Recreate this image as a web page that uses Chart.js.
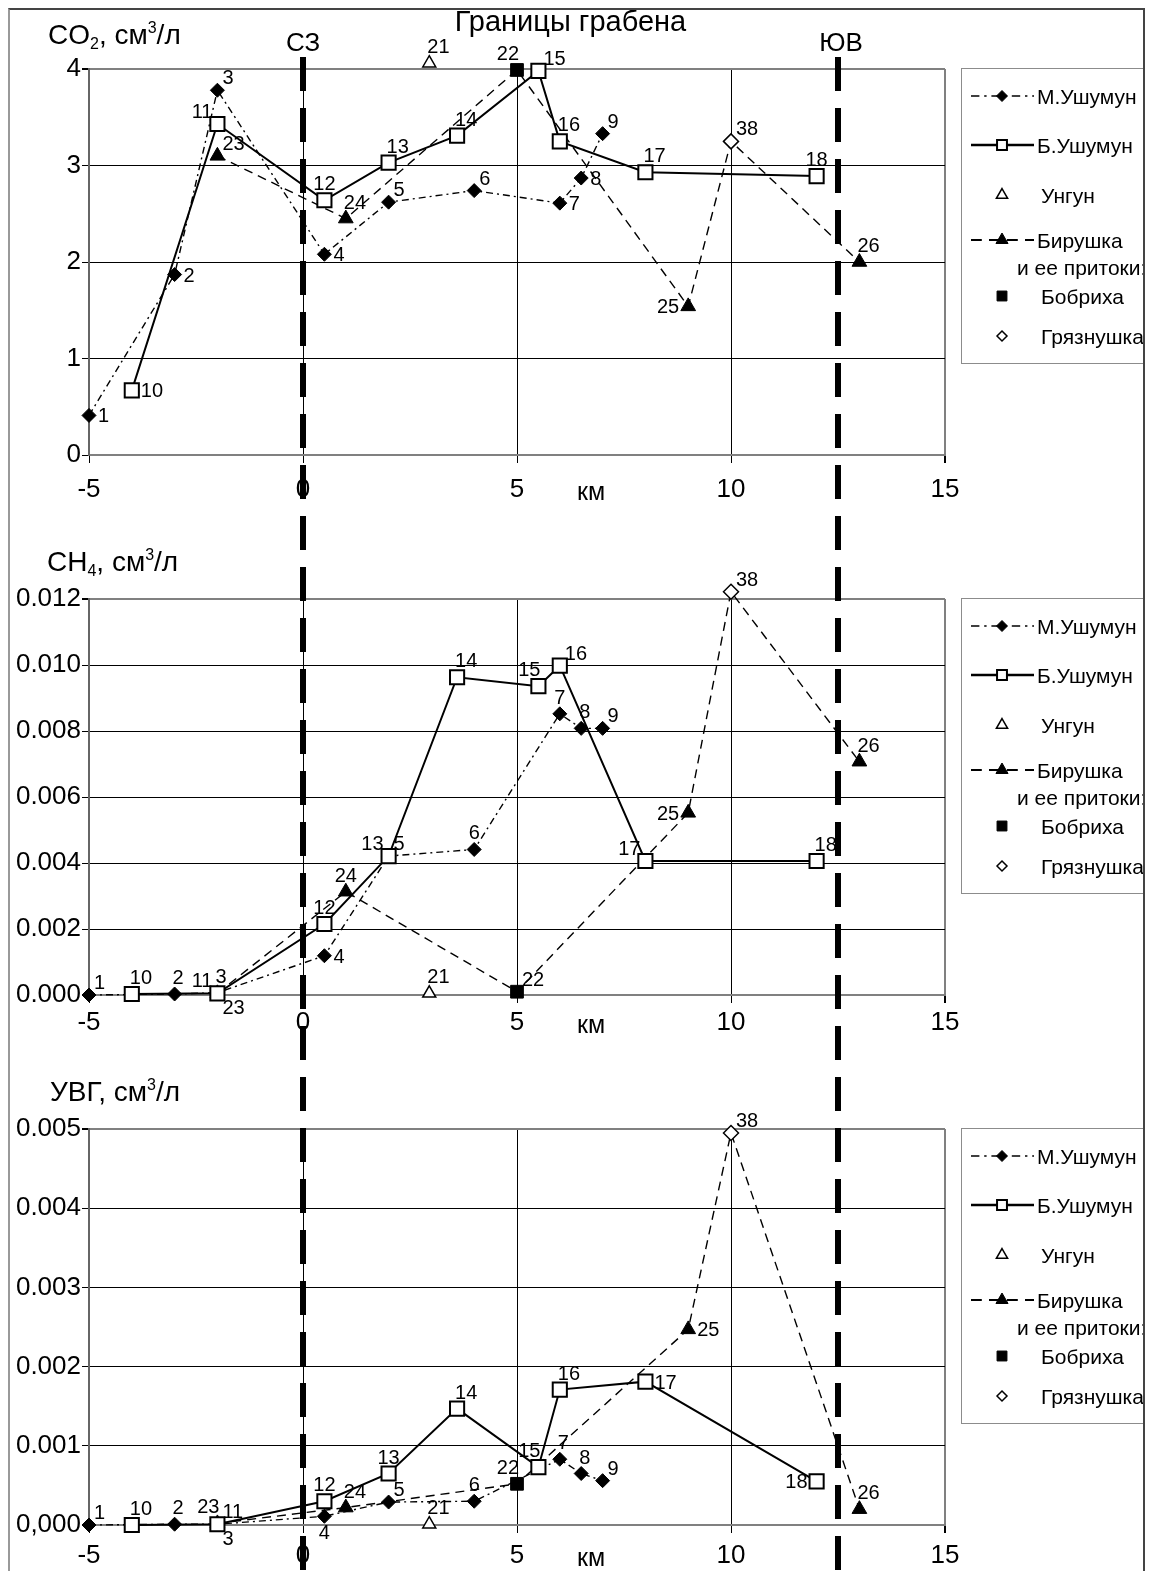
<!DOCTYPE html>
<html>
<head>
<meta charset="utf-8">
<script src="https://cdn.jsdelivr.net/npm/chart.js@4.4.1/dist/chart.umd.min.js"></script>
<style>
  body { margin: 0; background: #fff; width: 1151px; height: 1571px; overflow: hidden; position: relative; }
  canvas { position: absolute; left: 0; }
  #frame { position: absolute; left: 8px; top: 8px; width: 1133px; height: 1600px;
    border-top: 2px solid #444; border-left: 2px solid #999; border-right: 2px solid #444; pointer-events: none; }
</style>
</head>
<body>
<canvas id="co2" width="1151" height="520" style="top:0"></canvas>
<canvas id="ch4" width="1151" height="530" style="top:520px"></canvas>
<canvas id="uvg" width="1151" height="521" style="top:1050px"></canvas>
<div id="frame"></div>
<script>
const FONT = '"Liberation Sans", Arial, sans-serif';
Chart.defaults.font.family = FONT;
Chart.defaults.color = '#000';

// названия рек
const names = ['М.Ушумун', 'Б.Ушумун', 'Унгун', 'Бирушка\nи ее притоки:', 'Бобриха', 'Грязнушка'];

// номера станций и их положение по профилю, км
const stMU = [1, 2, 3, 4, 5, 6, 7, 8, 9];
const kmMU = [-5, -3, -2, 0.5, 2, 4, 6, 6.5, 7];
const stBU = [10, 11, 12, 13, 14, 15, 16, 17, 18];
const kmBU = [-4, -2, 0.5, 2, 3.6, 5.5, 6, 8, 12];
const stUng = [21];
const kmUng = [2.95];
// линия Бирушки проходит через устья притоков: 22 - Бобриха, 38 - Грязнушка
const stBir = [23, 24, 22, 25, 38, 26];
const kmBir = [-2, 1, 5, 9, 10, 13];
const stBobr = [22];
const stGryaz = [38];

// границы грабена, км
const graben = [0, 12.5];

// CO2, см3/л
const co2MU = [0.41, 1.87, 3.78, 2.08, 2.62, 2.74, 2.61, 2.87, 3.33];
const co2BU = [0.67, 3.43, 2.64, 3.03, 3.31, 3.98, 3.25, 2.93, 2.89];
const co2Ung = [4.06];
const co2Bir = [3.10, 2.45, 3.99, 1.54, 3.25, 2.00];

// CH4, см3/л
const ch4MU = [0.00000, 0.00003, 0.00007, 0.00119, 0.00421, 0.00441, 0.00852, 0.00808, 0.00808];
const ch4BU = [0.00003, 0.00005, 0.00215, 0.00421, 0.00963, 0.00936, 0.00998, 0.00406, 0.00406];
const ch4Ung = [0.00005];
const ch4Bir = [0.00005, 0.00313, 0.0001, 0.00552, 0.01222, 0.00707];

// УВГ, см3/л
const uvgMU = [0.00000, 0.00001, 0.00001, 0.00011, 0.00029, 0.00030, 0.00083, 0.00065, 0.00056];
const uvgBU = [0.00000, 0.00001, 0.00030, 0.00065, 0.00147, 0.00073, 0.00171, 0.00181, 0.00055];
const uvgUng = [0.00001];
const uvgBir = [0.00002, 0.00022, 0.00052, 0.00247, 0.00495, 0.00020];

// подписи осей
const xTickVals = [-5, 0, 5, 10, 15];
const xTickLabels = ['-5', '0', '5', '10', '15'];
const co2TickVals = [0, 1, 2, 3, 4];
const co2TickLabels = ['0', '1', '2', '3', '4'];
const ch4TickVals = [0, 0.002, 0.004, 0.006, 0.008, 0.010, 0.012];
const ch4TickLabels = ['0.000', '0.002', '0.004', '0.006', '0.008', '0.010', '0.012'];
const uvgTickVals = [0, 0.001, 0.002, 0.003, 0.004, 0.005];
const uvgTickLabels = ['0,000', '0.001', '0.002', '0.003', '0.004', '0.005'];

// стили
const styleMU = { pointStyle: 'rectRot', radius: 7, fill: '#000', pw: 1, width: 1.4, dash: [7, 4, 2, 4] };
const styleBU = { pointStyle: 'rect', radius: 10, fill: '#fff', pw: 2, width: 2, dash: [] };
const styleUng = { pointStyle: 'triangle', radius: 7.5, fill: '#fff', pw: 1.5, width: 1, dash: null };
const styleBir = { pointStyle: 'triangle', radius: 8.5, fill: '#000', pw: 1, width: 1.4, dash: [9, 6] };
const styleBobr = { pointStyle: 'rect', radius: 9, fill: '#000', pw: 1, width: 1, dash: null };
const styleGryaz = { pointStyle: 'rectRot', radius: 7.5, fill: '#fff', pw: 1.5, width: 1, dash: null };

// где ставить номер станции относительно точки
const OFFS = {
  n: [0, -10, 'center'], nr: [-2, -10, 'left'], nl: [2, -10, 'right'],
  ne: [5, -6, 'left'], nw: [-5, -6, 'right'],
  e: [9, 7, 'left'], w: [-9, 7, 'right'],
  se: [5, 21, 'left'], s: [0, 23, 'center']
};
const co2Pos = {1:'e',2:'e',3:'ne',4:'e',5:'ne',6:'ne',7:'e',8:'e',9:'ne',10:'e',11:'nw',12:'n',13:'nr',14:'nr',15:'ne',16:'nr',17:'nr',18:'n',21:'nr',22:'nl',23:'ne',24:'nr',25:'w',26:'nr',38:'ne'};
const ch4Pos = {1:'ne',2:'nr',3:'nr',4:'e',5:'ne',6:'n',7:'n',8:'nr',9:'ne',10:'nr',11:'nw',12:'n',13:'nw',14:'nr',15:'nl',16:'ne',17:'nw',18:'nr',21:'nr',22:'ne',23:'se',24:'n',25:'w',26:'nr',38:'ne'};
const uvgPos = {1:'ne',2:'nr',3:'se',4:'s',5:'ne',6:'n',7:'nr',8:'nr',9:'ne',10:'nr',11:'ne',12:'n',13:'n',14:'nr',15:'nl',16:'nr',17:'e',18:'w',21:'nr',22:'nl',23:'nl',24:'nr',25:'e',26:'nr',38:'ne'};

const legendRows = [
  { i: 0, s: styleMU, dy: 28, mr: 5.5, lw: 1.4 },
  { i: 1, s: styleBU, dy: 77, mr: 7, lw: 2.5 },
  { i: 2, s: styleUng, dy: 127, mr: 6.5, lw: 1 },
  { i: 3, s: styleBir, dy: 172, mr: 7, lw: 1.8 },
  { i: 4, s: styleBobr, dy: 228, mr: 7, lw: 1 },
  { i: 5, s: styleGryaz, dy: 268, mr: 5, lw: 1 }
];

function pick(arr, s) { return [arr[stBir.indexOf(s)]]; }

function series(name, st, km, vals, s, hide) {
  const r = c => (hide && hide.includes(st[c.dataIndex]) ? 0 : s.radius);
  return {
    label: name,
    data: km.map((x, i) => ({ x: x, y: vals[i], st: st[i] })),
    showLine: s.dash !== null,
    borderColor: '#000',
    borderWidth: s.width,
    borderDash: s.dash || [],
    pointStyle: s.pointStyle,
    pointRadius: r,
    pointHoverRadius: r,
    pointBackgroundColor: s.fill,
    pointBorderColor: '#000',
    pointBorderWidth: s.pw,
    clip: false
  };
}

function drawMarker(ctx, s, x, y, r) {
  ctx.beginPath();
  if (s.pointStyle === 'rect') {
    const h = r * Math.SQRT1_2;
    ctx.rect(x - h, y - h, 2 * h, 2 * h);
  } else if (s.pointStyle === 'rectRot') {
    ctx.moveTo(x, y - r); ctx.lineTo(x + r, y); ctx.lineTo(x, y + r); ctx.lineTo(x - r, y); ctx.closePath();
  } else {
    ctx.moveTo(x, y - r); ctx.lineTo(x + r * 0.866, y + r / 2); ctx.lineTo(x - r * 0.866, y + r / 2); ctx.closePath();
  }
  ctx.setLineDash([]);
  ctx.fillStyle = s.fill; ctx.fill();
  ctx.lineWidth = s.pw; ctx.strokeStyle = '#000'; ctx.stroke();
}

function richText(ctx, parts, x, y) {
  parts.forEach(p => {
    ctx.font = p[1] + 'px ' + FONT;
    ctx.fillText(p[0], x, y + (p[2] || 0));
    x += ctx.measureText(p[0]).width;
  });
}

const decor = {
  id: 'decor',
  afterDatasetsDraw(chart, args, o) {
    const ctx = chart.ctx, xs = chart.scales.x;
    ctx.save();
    ctx.strokeStyle = '#000';
    ctx.lineWidth = 6;
    ctx.setLineDash([34, 17]);
    ctx.lineDashOffset = chart.canvas.offsetTop + o.lineTop - 57;
    graben.forEach(km => {
      const px = Math.round(xs.getPixelForValue(km));
      ctx.beginPath();
      ctx.moveTo(px, o.lineTop);
      ctx.lineTo(px, chart.height);
      ctx.stroke();
    });
    ctx.restore();
  },
  afterDraw(chart, args, o) {
    const ctx = chart.ctx, xs = chart.scales.x, area = chart.chartArea;
    ctx.save();
    ctx.fillStyle = '#000';
    ctx.textAlign = 'left';
    ctx.textBaseline = 'alphabetic';
    richText(ctx, o.title, o.titleX, o.titleY);

    ctx.font = '25px ' + FONT;
    ctx.textAlign = 'center';
    ctx.textBaseline = 'middle';
    ctx.fillText('км', 591, xs.top + 8 + o.xpad + 19);

    if (o.heads) {
      const p0 = xs.getPixelForValue(graben[0]), p1 = xs.getPixelForValue(graben[1]);
      ctx.textBaseline = 'alphabetic';
      ctx.font = '29px ' + FONT;
      ctx.fillText('Границы грабена', (p0 + p1) / 2, 31);
      ctx.font = '26px ' + FONT;
      ctx.fillText('СЗ', p0, 51);
      ctx.fillText('ЮВ', p1 + 3, 51);
    }

    // легенда
    const L = 961, R = 1143, top = area.top - 1;
    ctx.setLineDash([]);
    ctx.strokeStyle = '#8c8c8c';
    ctx.lineWidth = 1;
    ctx.strokeRect(L + 0.5, top + 0.5, R - L, 295);
    ctx.beginPath();
    ctx.rect(L, top, R - L, 297);
    ctx.clip();
    legendRows.forEach(r => {
      const y = top + r.dy;
      if (r.s.dash !== null) {
        ctx.beginPath();
        ctx.setLineDash(r.s.dash.length ? r.s.dash.map(d => d * 1.2) : []);
        ctx.lineWidth = r.lw;
        ctx.strokeStyle = '#000';
        ctx.moveTo(971, y);
        ctx.lineTo(1034, y);
        ctx.stroke();
      }
      drawMarker(ctx, r.s, 1002, y, r.mr);
      const lines = names[r.i].split('\n');
      ctx.fillStyle = '#000';
      ctx.font = '21px ' + FONT;
      ctx.textAlign = 'left';
      ctx.textBaseline = 'alphabetic';
      ctx.fillText(lines[0], r.s.dash !== null ? 1037 : 1041, y + 8);
      if (lines[1]) ctx.fillText(lines[1], 1017, y + 35);
    });
    ctx.restore();
  }
};

const pointLabels = {
  id: 'pointLabels',
  afterDatasetsDraw(chart, args, o) {
    const ctx = chart.ctx;
    const done = new Set();
    ctx.save();
    ctx.font = '20px ' + FONT;
    ctx.fillStyle = '#000';
    ctx.textBaseline = 'alphabetic';
    chart.data.datasets.forEach((d, di) => {
      const meta = chart.getDatasetMeta(di);
      d.data.forEach((p, i) => {
        if (done.has(p.st)) return;
        const pos = OFFS[o.pos[p.st]];
        if (!pos) return;
        done.add(p.st);
        const el = meta.data[i];
        ctx.textAlign = pos[2];
        ctx.fillText(String(p.st), el.x + pos[0], el.y + pos[1]);
      });
    });
    ctx.restore();
  }
};

function panel(p) {
  const gridCol = (edges) => c => (c.tick && edges.includes(c.tick.value) ? '#808080' : '#000');
  new Chart(document.getElementById(p.id), {
    type: 'scatter',
    data: {
      datasets: [
        series(names[4], stBobr, pick(kmBir, 22), pick(p.bir, 22), styleBobr),
        series(names[5], stGryaz, pick(kmBir, 38), pick(p.bir, 38), styleGryaz),
        series(names[1], stBU, kmBU, p.bu, styleBU),
        series(names[2], stUng, kmUng, p.ung, styleUng),
        series(names[0], stMU, kmMU, p.mu, styleMU),
        series(names[3], stBir, kmBir, p.bir, styleBir, [22, 38])
      ]
    },
    options: {
      responsive: false,
      animation: false,
      events: [],
      layout: { padding: { top: p.top, right: 206, left: 0, bottom: 0 } },
      scales: {
        x: {
          type: 'linear', min: -5, max: 15,
          afterBuildTicks: s => { s.ticks = xTickVals.map(v => ({ value: v })); },
          afterFit: s => { s.height = p.xh; },
          ticks: { callback: (v, i) => xTickLabels[i], font: { size: 26 }, color: '#000', padding: p.xpad, maxRotation: 0, autoSkip: false },
          grid: { color: gridCol([-5, 15]), lineWidth: c => (c.tick && c.tick.value === 15 ? 2 : 1), tickLength: 8, tickColor: '#000' },
          border: { color: '#808080', width: 2 }
        },
        y: {
          type: 'linear', min: 0, max: p.yMax,
          afterBuildTicks: s => { s.ticks = p.tickVals.map(v => ({ value: v })); },
          afterFit: s => { s.width = 89; },
          ticks: { callback: (v, i) => p.tickLabels[i], font: { size: 26 }, color: '#000', padding: 1, autoSkip: false },
          grid: { color: gridCol([0, p.yMax]), lineWidth: c => (c.tick && c.tick.value === p.yMax ? 2 : 1), tickLength: 7, tickColor: '#000' },
          border: { color: '#666', width: 2 }
        }
      },
      plugins: {
        legend: { display: false },
        tooltip: { enabled: false },
        decor: { title: p.title, titleX: p.titleX, titleY: p.titleY, xpad: p.xpad, lineTop: p.lineTop, heads: p.heads },
        pointLabels: { pos: p.pos }
      }
    },
    plugins: [decor, pointLabels]
  });
}

panel({
  id: 'co2', top: 69, xh: 65, xpad: 11, yMax: 4,
  tickVals: co2TickVals, tickLabels: co2TickLabels,
  mu: co2MU, bu: co2BU, ung: co2Ung, bir: co2Bir, pos: co2Pos,
  title: [['CO', 28], ['2', 16, 5], [', см', 28], ['3', 16, -11], ['/л', 28]], titleX: 48, titleY: 44,
  lineTop: 57, heads: true
});
panel({
  id: 'ch4', top: 79, xh: 55, xpad: 4, yMax: 0.012,
  tickVals: ch4TickVals, tickLabels: ch4TickLabels,
  mu: ch4MU, bu: ch4BU, ung: ch4Ung, bir: ch4Bir, pos: ch4Pos,
  title: [['CH', 28], ['4', 16, 5], [', см', 28], ['3', 16, -11], ['/л', 28]], titleX: 47, titleY: 51,
  lineTop: 0, heads: false
});
panel({
  id: 'uvg', top: 79, xh: 46, xpad: 7, yMax: 0.005,
  tickVals: uvgTickVals, tickLabels: uvgTickLabels,
  mu: uvgMU, bu: uvgBU, ung: uvgUng, bir: uvgBir, pos: uvgPos,
  title: [['УВГ, см', 28], ['3', 16, -11], ['/л', 28]], titleX: 50, titleY: 51,
  lineTop: 0, heads: false
});
</script>
</body>
</html>
